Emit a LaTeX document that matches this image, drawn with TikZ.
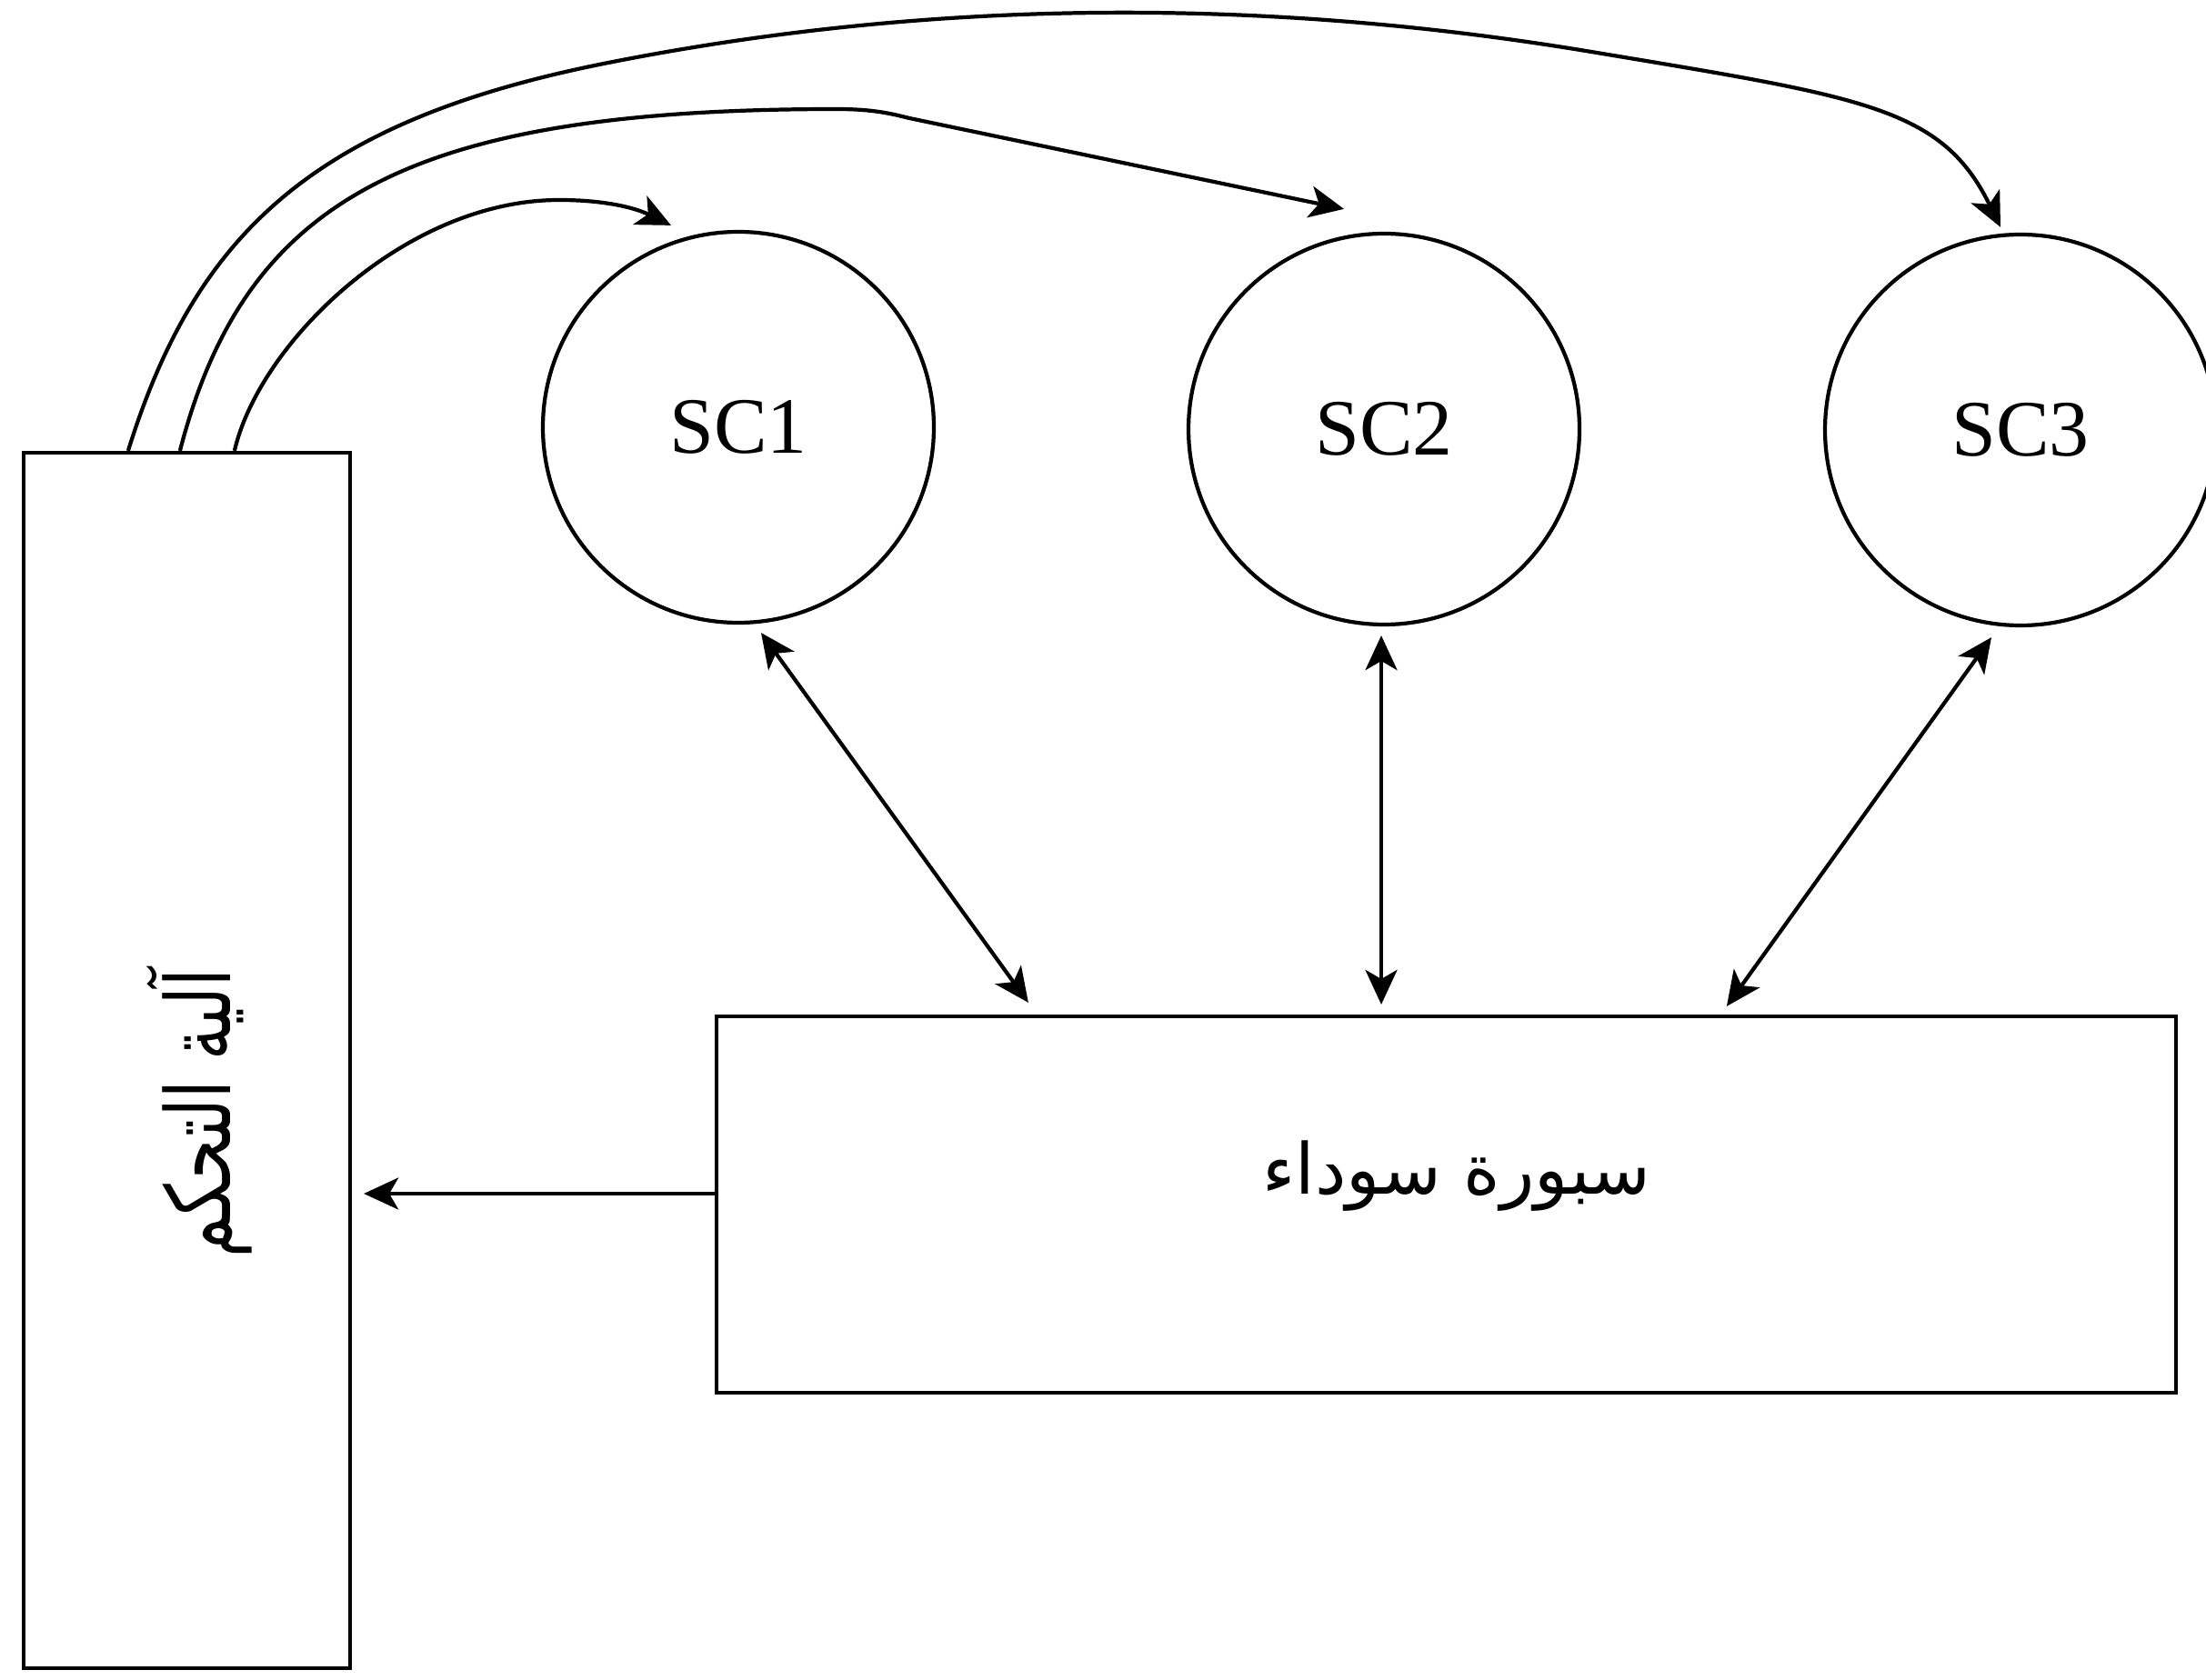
\documentclass[tikz,border=0pt]{standalone}
\usepackage{graphicx}
\usepackage{fontspec}
\setmainfont{Liberation Serif}
\newfontfamily\arabicfont[Script=Arabic]{DejaVu Sans}
\TeXXeTstate=1
\usetikzlibrary{arrows.meta,calc}
\begin{document}
\begin{tikzpicture}[
  line width=1.2pt,
  tipA/.tip={Stealth[length=0.38cm,width=0.35cm,inset=0.1cm]},
  arr/.style={-tipA},
  dbl/.style={tipA-tipA},
  sc/.style={circle,draw,minimum size=4.30cm,inner sep=0pt,font=\fontsize{25}{30}\selectfont},
  box/.style={draw,rectangle,inner sep=0pt}
]
\useasboundingbox (0,0) rectangle (24.26,18.47);
% boxes
\node[box, minimum width=3.59cm, minimum height=13.37cm] (ctrl) at (2.055,6.805) {};
\node[rotate=90, font=\arabicfont\fontsize{28}{34}\selectfont] (ctrltxt) at (2.19,6.22) {\scalebox{0.72}[1]{\beginR آلية التحكم\endR}};
\node[box, minimum width=16.05cm, minimum height=4.14cm] (bb) at (15.905,5.22) {};
\node[font=\arabicfont\fontsize{22}{26}\selectfont] (bbtxt) at (16.02,5.53) {\beginR سبورة سوداء\endR};
% circles
\node[sc] (sc1) at (8.12,13.77) {SC1};
\node[sc] (sc2) at (15.22,13.75) {SC2};
\node[sc] (sc3) at (22.22,13.74) {SC3};
% coordinates
\coordinate (s1) at ($(ctrl.north west)+(2.34,0)$);
\coordinate (s2) at ($(ctrl.north west)+(1.74,0)$);
\coordinate (s3) at ($(ctrl.north west)+(1.17,0)$);
\coordinate (t1) at ($(sc1.north)+(-0.74,0.05)$);
\coordinate (t2) at ($(sc2.north)+(-0.44,0.25)$);
\coordinate (t3) at ($(sc3.north)+(-0.22,0.06)$);
\coordinate (a1t) at ($(sc1.south)+(0.25,-0.09)$);
\coordinate (a1b) at ($(bb.north west)+(3.45,0.13)$);
\coordinate (a2t) at ($(sc2.south)+(-0.03,-0.10)$);
\coordinate (a2b) at ($(a2t |- bb.north)+(0,0.11)$);
\coordinate (a3t) at ($(sc3.south)+(-0.32,-0.11)$);
\coordinate (a3b) at ($(bb.north west)+(11.13,0.09)$);
\coordinate (hs) at ($(bb.west)+(0,0.12)$);
\coordinate (he) at ($(hs -| ctrl.east)+(0.13,0)$);
% curved arrows
\draw[arr] (s1) .. controls (2.85,14.69) and (4.45,16.27) .. (6.15,16.27)
  .. controls (6.6,16.27) and (6.95,16.20) .. (t1);
\draw[arr] (s2) .. controls (2.70,16.29) and (4.5,17.27) .. (9.2,17.27)
  .. controls (9.6,17.27) and (9.8,17.22) .. (10.0,17.17) -- (t2);
\draw[arr] (s3) .. controls (2.15,15.89) and (3.44,17.13) .. (6.64,17.77)
  .. controls (10.24,18.49) and (13.9,18.50) .. (17.50,17.90)
  .. controls (20.5,17.40) and (21.355,17.29) .. (t3);
% double arrows
\draw[dbl] (a1t) -- (a1b);
\draw[dbl] (a2t) -- (a2b);
\draw[dbl] (a3t) -- (a3b);
% horizontal
\draw[arr] (hs) -- (he);
\end{tikzpicture}
\end{document}
